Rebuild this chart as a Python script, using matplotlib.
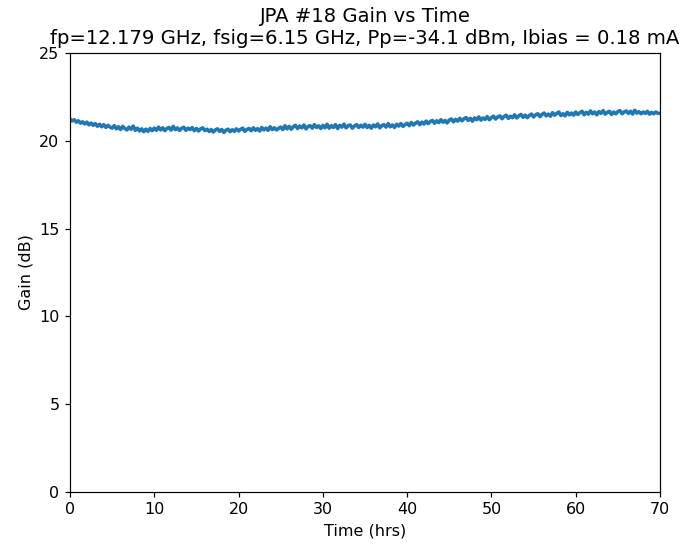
import numpy as np
import matplotlib
matplotlib.use("Agg")
import matplotlib.pyplot as plt

title_text = "JPA #18 Gain vs Time\nfp=12.179 GHz, fsig=6.15 GHz, Pp=-34.1 dBm, Ibias = 0.18 mA"
x_label = "Time (hrs)"
y_label = "Gain (dB)"
x_ticks = [0, 10, 20, 30, 40, 50, 60, 70]
y_ticks = [0, 5, 10, 15, 20, 25]

# Gain, one value every 0.25 h from 0 to 70 h
gain = [
    21.24, 21.13, 21.20, 21.06, 21.14, 21.00, 21.08, 20.96, 21.06, 20.91, 21.01, 20.88, 20.98, 20.83, 20.94, 20.80, 20.92, 20.76, 20.88, 20.78,
    20.72, 20.86, 20.68, 20.80, 20.64, 20.82, 20.70, 20.62, 20.78, 20.66, 20.84, 20.60, 20.72, 20.56, 20.68, 20.52, 20.66, 20.54, 20.70, 20.58,
    20.72, 20.60, 20.78, 20.62, 20.74, 20.58, 20.70, 20.76, 20.61, 20.82, 20.64, 20.73, 20.59, 20.71, 20.77, 20.60, 20.72, 20.64, 20.75, 20.58,
    20.70, 20.56, 20.68, 20.74, 20.58, 20.66, 20.53, 20.64, 20.50, 20.62, 20.68, 20.54, 20.64, 20.48, 20.60, 20.66, 20.52, 20.63, 20.54, 20.68,
    20.56, 20.66, 20.72, 20.54, 20.65, 20.70, 20.57, 20.74, 20.60, 20.69, 20.56, 20.76, 20.62, 20.72, 20.60, 20.80, 20.64, 20.74, 20.62, 20.71,
    20.78, 20.64, 20.86, 20.68, 20.82, 20.66, 20.80, 20.88, 20.70, 20.84, 20.74, 20.90, 20.68, 20.82, 20.86, 20.72, 20.92, 20.76, 20.85, 20.70,
    20.88, 20.74, 20.94, 20.72, 20.86, 20.76, 20.92, 20.70, 20.88, 20.78, 20.95, 20.74, 20.86, 20.90, 20.72, 20.84, 20.92, 20.76, 20.88, 20.78,
    20.94, 20.76, 20.88, 20.72, 20.90, 20.80, 20.96, 20.74, 20.86, 20.92, 20.78, 20.98, 20.80, 20.90, 20.76, 20.94, 20.84, 20.98, 20.82, 20.92,
    21.00, 20.86, 21.04, 20.90, 21.00, 21.08, 20.92, 21.06, 20.96, 21.12, 20.98, 21.10, 21.16, 21.00, 21.14, 21.04, 21.20, 21.06, 21.16, 21.02,
    21.18, 21.24, 21.08, 21.22, 21.12, 21.28, 21.14, 21.26, 21.32, 21.16, 21.28, 21.12, 21.30, 21.20, 21.36, 21.18, 21.30, 21.22, 21.38, 21.20,
    21.32, 21.40, 21.24, 21.36, 21.42, 21.26, 21.38, 21.46, 21.28, 21.40, 21.32, 21.48, 21.30, 21.42, 21.50, 21.34, 21.46, 21.32, 21.44, 21.52,
    21.36, 21.48, 21.54, 21.38, 21.50, 21.58, 21.42, 21.52, 21.40, 21.60, 21.46, 21.56, 21.64, 21.44, 21.54, 21.42, 21.62, 21.48, 21.58, 21.46,
    21.64, 21.50, 21.60, 21.68, 21.48, 21.62, 21.52, 21.70, 21.54, 21.64, 21.48, 21.66, 21.56, 21.72, 21.52, 21.62, 21.68, 21.50, 21.64, 21.54,
    21.66, 21.72, 21.54, 21.64, 21.70, 21.56, 21.68, 21.52, 21.74, 21.58, 21.66, 21.54, 21.64, 21.56, 21.68, 21.52, 21.62, 21.54, 21.64, 21.56,
    21.57,
]
time_hrs = np.linspace(0, 70, len(gain))

dpi = 107
fig = plt.figure(figsize=(685 / dpi, 544 / dpi), dpi=dpi)
ax = fig.add_axes([70 / 685, 1 - 492 / 544, 590 / 685, 439 / 544])
ax.plot(time_hrs, gain, color="#1f77b4", lw=2.4)
ax.set_xlim(0, 70)
ax.set_ylim(0, 25)
ax.set_xticks(x_ticks)
ax.set_yticks(y_ticks)
ax.tick_params(labelsize=10.8)
ax.set_xlabel(x_label, fontsize=10.8)
ax.set_ylabel(y_label, fontsize=10.8)
ax.set_title(title_text, fontsize=13.2)
fig.savefig("out.png", dpi=dpi)
